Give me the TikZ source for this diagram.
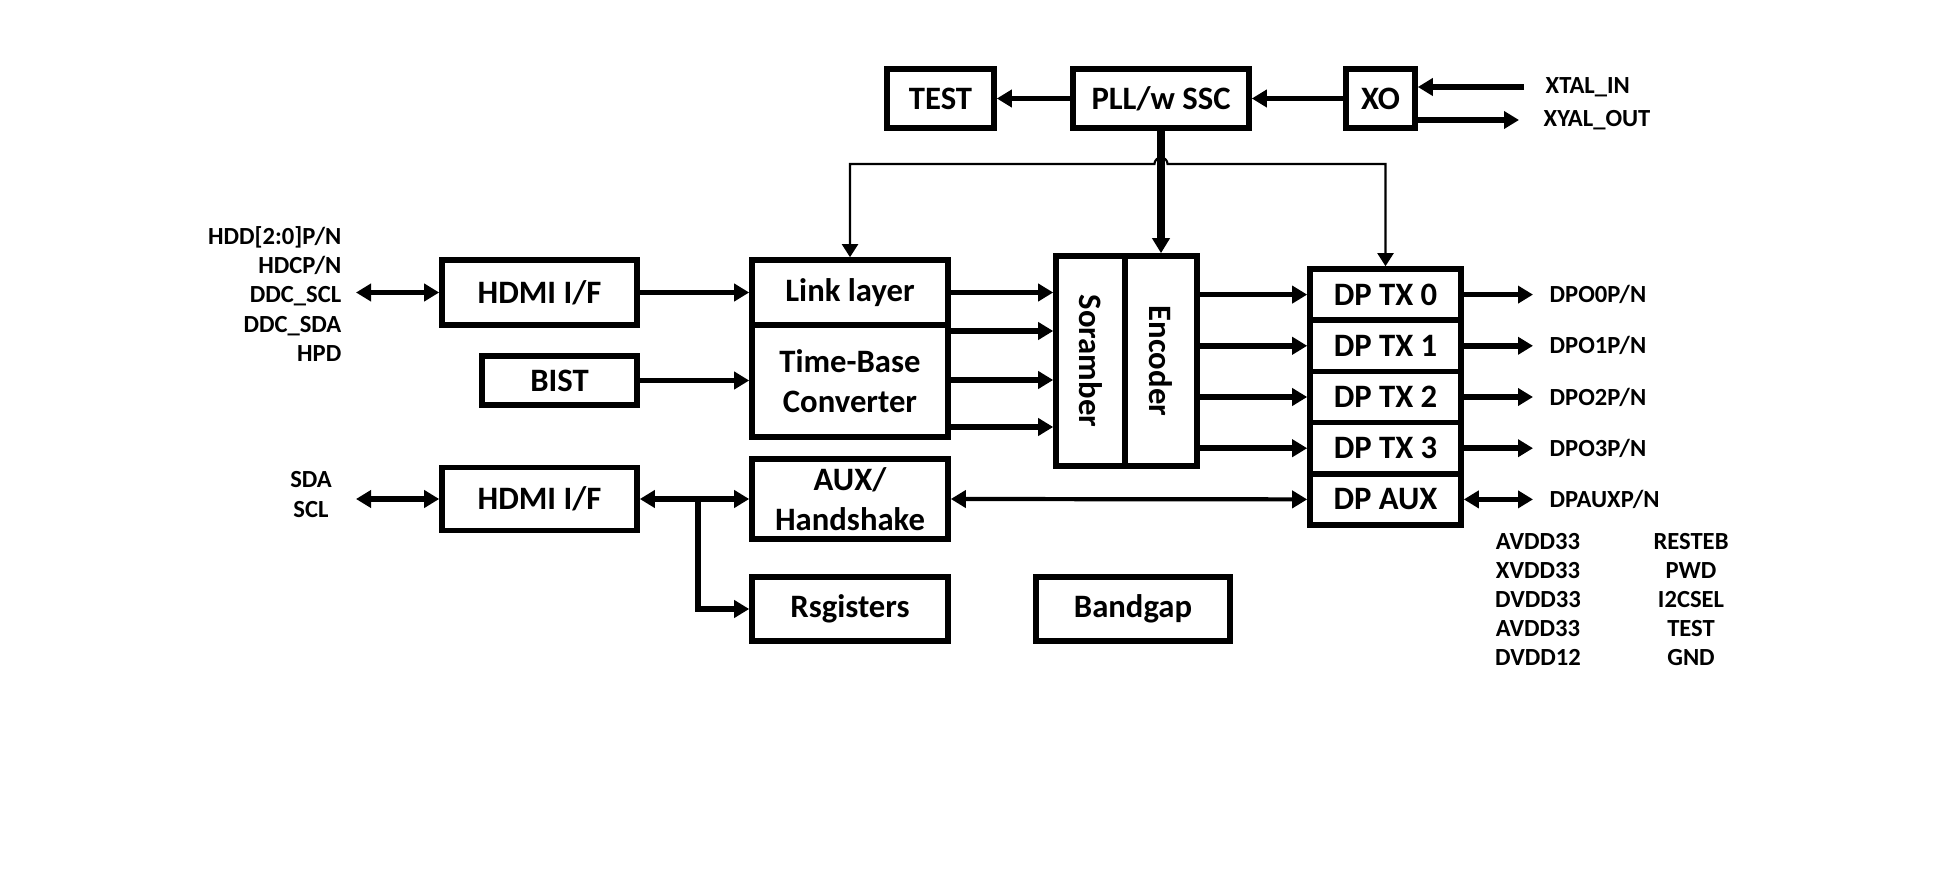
\documentclass[tikz,border=0pt]{standalone}
\usepackage{fontspec}
\setmainfont{Carlito}
\usetikzlibrary{arrows.meta,positioning}

\begin{document}
\begin{tikzpicture}[x=1cm,y=1cm,>={Triangle[length=1.5mm,width=1.7mm]},
  blk/.style={draw,line width=1.6pt,inner sep=0pt,align=center,font=\fontsize{9.3}{11.3}\selectfont\bfseries},
  pin/.style={inner sep=0pt,align=center,font=\fontsize{7}{8.3}\selectfont\bfseries},
  bus/.style={line width=1.6pt,->},
  clk/.style={line width=0.6pt,>={Triangle[length=1.3mm,width=1.6mm]}}]
\useasboundingbox (0,0) rectangle (19.43,8.77);
\node[blk,minimum width=1.07cm,minimum height=0.59cm] (test) at (9.405,7.785) {TEST};
\node[blk,minimum width=1.76cm,minimum height=0.59cm] (pll) at (11.61,7.785) {PLL/w SSC};
\node[blk,minimum width=0.69cm,minimum height=0.59cm] (xo) at (13.805,7.785) {XO};
\node[blk,minimum width=1.95cm,minimum height=0.65cm] (hdmia) at (5.395,5.845) {HDMI I/F};
\node[blk,minimum width=1.55cm,minimum height=0.49cm] (bist) at (5.595,4.965) {BIST};
\node[blk,minimum width=1.95cm,minimum height=0.63cm] (hdmib) at (5.395,3.78) {HDMI I/F};
\node[blk,minimum width=1.96cm,minimum height=0.65cm] (link) at (8.50,5.845) {Link layer};
\node[blk,minimum width=1.96cm,minimum height=1.12cm] (tbc) at (8.50,4.96) {Time-Base\\Converter};
\node[blk,minimum width=1.96cm,minimum height=0.80cm] (aux) at (8.50,3.78) {AUX/\\Handshake};
\node[blk,minimum width=1.96cm,minimum height=0.64cm] (regs) at (8.50,2.68) {Rsgisters};
\node[blk,minimum width=1.94cm,minimum height=0.64cm] (bgap) at (11.33,2.68) {Bandgap};
\node[blk,minimum width=0.69cm,minimum height=2.10cm] (scr) at (10.905,5.16) {};
\node[rotate=-90,font=\fontsize{9.3}{11.3}\selectfont\bfseries] at (scr) {Soramber};
\node[blk,minimum width=0.72cm,minimum height=2.10cm] (enc) at (11.61,5.16) {};
\node[rotate=-90,font=\fontsize{9.3}{11.3}\selectfont\bfseries] at (enc) {Encoder};
\node[blk,minimum width=1.51cm,minimum height=0.512cm] (tx0) at (13.855,5.824) {DP TX 0};
\node[blk,minimum width=1.51cm,minimum height=0.512cm] (tx1) at (13.855,5.312) {DP TX 1};
\node[blk,minimum width=1.51cm,minimum height=0.512cm] (tx2) at (13.855,4.80) {DP TX 2};
\node[blk,minimum width=1.51cm,minimum height=0.512cm] (tx3) at (13.855,4.288) {DP TX 3};
\node[blk,minimum width=1.51cm,minimum height=0.512cm] (txaux) at (13.855,3.776) {DP AUX};

\node[pin,align=right,anchor=east] (hdmipins) at (3.42,5.83) {HDD[2:0]P/N\\HDCP/N\\DDC\_SCL\\DDC\_SDA\\HPD};
\node[pin] (i2cpins) at (3.11,3.825) {SDA\\SCL};
\node[pin,anchor=west] (xtalin) at (15.45,7.90) {XTAL\_IN};
\node[pin,anchor=west] (xtalout) at (15.43,7.57) {XYAL\_OUT};
\node[pin,anchor=west] (dpo0) at (15.49,5.824) {DPO0P/N};
\node[pin,anchor=west] (dpo1) at (15.49,5.312) {DPO1P/N};
\node[pin,anchor=west] (dpo2) at (15.49,4.80) {DPO2P/N};
\node[pin,anchor=west] (dpo3) at (15.49,4.288) {DPO3P/N};
\node[pin,anchor=west] (dpaux) at (15.49,3.776) {DPAUXP/N};
\node[pin] (pwr) at (15.38,2.775) {AVDD33\\XVDD33\\DVDD33\\AVDD33\\DVDD12};
\node[pin] (ctl) at (16.91,2.775) {RESTEB\\PWD\\I2CSEL\\TEST\\GND};

\coordinate (ddc) at (3.56,5.845);
\coordinate (i2c) at (3.56,3.78);
\coordinate (tap) at (6.98,3.78);
\coordinate (hop) at (11.545,7.13);

\draw[bus] (pll.west) -- (test.east);
\draw[bus] (xo.west) -- (pll.east);
\draw[bus] ([xshift=-2.1mm]xtalin.west) -- (xtalin.west -| xo.east);
\draw[bus] (xtalout.west -| xo.east) -- ([xshift=-2.4mm]xtalout.west);
\draw[bus,line width=2.2pt] (pll.south) -- (enc.north);
\draw[clk,<->] (link.north) |- (hop) arc[start angle=180,end angle=0,radius=0.065] -| (tx0.north);

\draw[bus,<->] (ddc) -- (hdmia.west);
\draw[bus] (hdmia.east) -- (link.west);
\draw[bus] (bist.east) -- (tbc.west |- bist.east);
\draw[bus] (link.east) -- (link.east -| scr.west);
\draw[bus] (tbc.east |- 0,5.46) -- (scr.west |- 0,5.46);
\draw[bus] (tbc.east |- 0,4.97) -- (scr.west |- 0,4.97);
\draw[bus] (tbc.east |- 0,4.50) -- (scr.west |- 0,4.50);
\draw[bus] (tx0.west -| enc.east) -- (tx0.west);
\draw[bus] (tx1.west -| enc.east) -- (tx1.west);
\draw[bus] (tx2.west -| enc.east) -- (tx2.west);
\draw[bus] (tx3.west -| enc.east) -- (tx3.west);
\draw[bus] (tx0.east) -- ([xshift=-1.6mm]dpo0.west);
\draw[bus] (tx1.east) -- ([xshift=-1.6mm]dpo1.west);
\draw[bus] (tx2.east) -- ([xshift=-1.6mm]dpo2.west);
\draw[bus] (tx3.east) -- ([xshift=-1.6mm]dpo3.west);
\draw[bus,<->] (txaux.east) -- ([xshift=-1.6mm]dpaux.west);

\draw[bus,<->] (i2c) -- (hdmib.west);
\draw[bus,<->] (hdmib.east) -- (aux.west);
\draw[bus] (tap) |- (regs.west);
\draw[bus,<->,line width=1.2pt] (aux.east) -- (txaux.west);
\end{tikzpicture}
\end{document}
